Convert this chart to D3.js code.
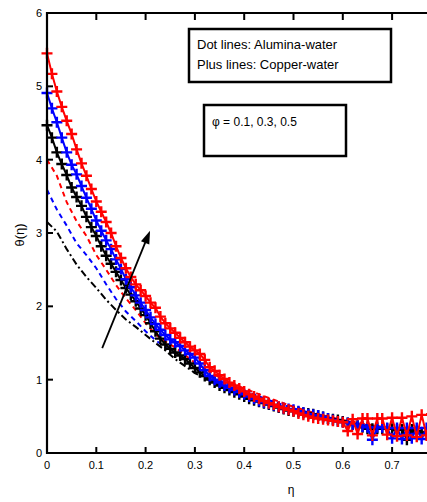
<!DOCTYPE html>
<html lang="en">
<head>
<meta charset="UTF-8">
<title>chart</title>
<script src="https://cdn.jsdelivr.net/npm/d3@7"></script>
<style>
  body { margin: 0; background: #fff; }
  text { font-family: "Liberation Sans", Arial, sans-serif; fill: #000; }
</style>
</head>
<body>
<script>
// x ticks / y ticks
var xTicks = [0, 0.1, 0.2, 0.3, 0.4, 0.5, 0.6, 0.7];
var yTicks = [0, 1, 2, 3, 4, 5, 6];

// copper-water (plus markers), eta step 0.01
var etaCu = [0.00,0.01,0.02,0.03,0.04,0.05,0.06,0.07,0.08,0.09,
             0.10,0.11,0.12,0.13,0.14,0.15,0.16,0.17,0.18,0.19,
             0.20,0.21,0.22,0.23,0.24,0.25,0.26,0.27,0.28,0.29,
             0.30,0.31,0.32,0.33,0.34,0.35,0.36,0.37,0.38,0.39,
             0.40,0.41,0.42,0.43,0.44,0.45,0.46,0.47,0.48,0.49,
             0.50,0.51,0.52,0.53,0.54,0.55,0.56,0.57,0.58,0.59,
             0.60,0.61,0.62,0.63,0.64,0.65,0.66,0.67,0.68,0.69,
             0.70,0.71,0.72,0.73,0.74,0.75,0.76,0.77,0.78];
var cuBlack = [4.47,4.30,4.10,3.94,3.79,3.62,3.49,3.37,3.22,3.08,
               2.96,2.82,2.69,2.58,2.47,2.36,2.25,2.16,2.07,1.97,
               1.88,1.77,1.66,1.56,1.48,1.42,1.37,1.33,1.28,1.22,
               1.16,1.10,1.05,1.00,0.96,0.92,0.89,0.86,0.83,0.80,
               0.77,0.74,0.72,0.70,0.68,0.66,0.64,0.62,0.60,0.58,
               0.57,0.56,0.55,0.54,0.53,0.51,0.49,0.47,0.46,0.45,
               0.43,0.41,0.39,0.37,0.35,0.33,0.33,0.33,0.33,0.33,
               0.33,0.32,0.32,0.18,0.32,0.30,0.28,0.27,0.27];
var cuBlue = [4.91,4.70,4.51,4.30,4.10,3.93,3.80,3.64,3.48,3.33,
              3.17,3.03,2.90,2.78,2.64,2.51,2.37,2.26,2.15,2.05,
              1.95,1.85,1.76,1.68,1.61,1.55,1.51,1.46,1.40,1.35,
              1.30,1.22,1.13,1.05,1.00,0.96,0.92,0.89,0.86,0.83,
              0.80,0.77,0.74,0.71,0.69,0.67,0.65,0.63,0.61,0.60,
              0.59,0.57,0.55,0.53,0.52,0.51,0.49,0.47,0.45,0.43,
              0.42,0.41,0.39,0.37,0.36,0.35,0.18,0.35,0.35,0.34,
              0.20,0.34,0.19,0.34,0.20,0.34,0.19,0.34,0.34];
var cuRed = [5.45,5.17,4.93,4.72,4.53,4.35,4.14,3.95,3.78,3.60,
             3.43,3.29,3.15,3.00,2.82,2.66,2.52,2.40,2.30,2.22,
             2.14,2.05,1.98,1.86,1.77,1.70,1.64,1.57,1.51,1.45,
             1.40,1.35,1.27,1.17,1.12,1.06,1.01,0.96,0.92,0.88,
             0.84,0.80,0.77,0.74,0.71,0.68,0.66,0.63,0.61,0.59,
             0.57,0.54,0.52,0.50,0.48,0.47,0.46,0.45,0.44,0.43,
             0.42,0.30,0.46,0.26,0.47,0.47,0.24,0.47,0.47,0.25,
             0.48,0.23,0.48,0.24,0.50,0.22,0.52,0.24,0.53];

// alumina-water (dashed lines)
var etaAl = [0,0.02,0.04,0.06,0.08,0.10,0.12,0.14,0.16,0.18,0.20,0.22,0.24,0.26,
             0.30,0.35,0.40,0.45,0.50,0.55,0.60,0.65,0.70,0.75,0.78];
var alBlack = [3.15,3.02,2.78,2.57,2.40,2.25,2.09,1.95,1.82,1.72,1.61,1.50,1.40,1.28,
               1.09,0.93,0.80,0.69,0.58,0.49,0.42,0.36,0.31,0.27,0.25];
var alBlue = [3.59,3.32,3.10,2.86,2.70,2.52,2.30,2.10,1.93,1.80,1.66,1.54,1.44,1.36,
              1.17,0.99,0.85,0.72,0.61,0.52,0.44,0.38,0.33,0.29,0.27];
var alRed = [4.00,3.78,3.42,3.16,2.96,2.70,2.50,2.29,2.11,1.95,1.77,1.62,1.52,1.44,
             1.23,1.03,0.88,0.75,0.63,0.53,0.45,0.39,0.34,0.30,0.28];

var legend1 = ["Dot lines: Alumina-water", "Plus lines: Copper-water"];
var legend2 = "\u03c6 = 0.1, 0.3, 0.5";

var width = 427, height = 502;
var svg = d3.select("body").append("svg")
    .attr("width", width).attr("height", height);

var x = d3.scaleLinear().domain([0, 0.8]).range([47, 441.4]);
var y = d3.scaleLinear().domain([0, 6]).range([453, 13]);

// alumina lines
var dash = {black: "7,3,2,3", blue: "5,4", red: "5,4"};
[["black", alBlack], ["blue", alBlue], ["red", alRed]].forEach(function(s){
    var line = d3.line().x(function(d,i){ return x(etaAl[i]); }).y(function(d){ return y(d); });
    svg.append("path")
        .attr("d", line(s[1]))
        .attr("fill", "none")
        .attr("stroke", s[0] == "blue" ? "#0000ff" : s[0] == "red" ? "#ff0000" : "#000")
        .attr("stroke-width", 2)
        .attr("stroke-dasharray", dash[s[0]]);
});

// copper lines with plus markers
[["#000", cuBlack], ["#0000ff", cuBlue], ["#ff0000", cuRed]].forEach(function(s){
    var line = d3.line().x(function(d,i){ return x(etaCu[i]); }).y(function(d){ return y(d); });
    svg.append("path")
        .attr("d", line(s[1]))
        .attr("fill", "none")
        .attr("stroke", s[0])
        .attr("stroke-width", 2);
    svg.append("g").selectAll("path.m").data(s[1]).enter().append("path")
        .attr("d", function(d,i){
            var cx = x(etaCu[i]), cy = y(d), r = 5.5;
            return "M" + (cx - r) + "," + cy + "H" + (cx + r) + "M" + cx + "," + (cy - r) + "V" + (cy + r);
        })
        .attr("stroke", s[0])
        .attr("stroke-width", 2.4)
        .attr("fill", "none");
});

// axes
var axisG = svg.append("g");
axisG.append("line").attr("x1", x(0)).attr("x2", width).attr("y1", y(0)).attr("y2", y(0))
    .attr("stroke", "#000").attr("stroke-width", 2.2);
axisG.append("line").attr("x1", x(0)).attr("x2", width).attr("y1", y(6)).attr("y2", y(6))
    .attr("stroke", "#000").attr("stroke-width", 2.2);
axisG.append("line").attr("x1", x(0)).attr("x2", x(0)).attr("y1", y(0) + 1).attr("y2", y(6) - 1)
    .attr("stroke", "#000").attr("stroke-width", 2.2);

xTicks.forEach(function(t){
    if (t > 0) {
        axisG.append("line").attr("x1", x(t)).attr("x2", x(t)).attr("y1", y(0)).attr("y2", y(0) - 6)
            .attr("stroke", "#000").attr("stroke-width", 2);
        axisG.append("line").attr("x1", x(t)).attr("x2", x(t)).attr("y1", y(6)).attr("y2", y(6) + 7)
            .attr("stroke", "#000").attr("stroke-width", 2);
    }
    axisG.append("text").attr("x", x(t)).attr("y", y(0) + 16)
        .attr("text-anchor", "middle").attr("font-size", 11).text(t);
});
yTicks.forEach(function(t){
    if (t > 0 && t < 6) {
        axisG.append("line").attr("x1", x(0)).attr("x2", x(0) + 6).attr("y1", y(t)).attr("y2", y(t))
            .attr("stroke", "#000").attr("stroke-width", 2);
    }
    axisG.append("text").attr("x", 42).attr("y", y(t) + 4)
        .attr("text-anchor", "end").attr("font-size", 11).text(t);
});

// axis titles
svg.append("text").attr("x", 291).attr("y", 494).attr("text-anchor", "middle")
    .attr("font-size", 12).text("\u03b7");
svg.append("text").attr("transform", "translate(24,235) rotate(-90)")
    .attr("text-anchor", "middle").attr("font-size", 13).text("\u03b8(\u03b7)");

// arrow
var a0 = [0.112, 1.43], a1 = [0.209, 3.03];
var ax0 = x(a0[0]), ay0 = y(a0[1]), ax1 = x(a1[0]), ay1 = y(a1[1]);
var ang = Math.atan2(ay1 - ay0, ax1 - ax0);
svg.append("line").attr("x1", ax0).attr("y1", ay0)
    .attr("x2", ax1 - 8 * Math.cos(ang)).attr("y2", ay1 - 8 * Math.sin(ang))
    .attr("stroke", "#000").attr("stroke-width", 1.8);
var hl = 13, hw = 4.5;
var bx = ax1 - hl * Math.cos(ang), by = ay1 - hl * Math.sin(ang);
svg.append("path")
    .attr("d", "M" + ax1 + "," + ay1 +
        "L" + (bx + hw * Math.sin(ang)) + "," + (by - hw * Math.cos(ang)) +
        "L" + (bx - hw * Math.sin(ang)) + "," + (by + hw * Math.cos(ang)) + "Z")
    .attr("fill", "#000");

// legend boxes
svg.append("rect").attr("x", 189).attr("y", 29).attr("width", 202).attr("height", 53)
    .attr("fill", "#fff").attr("stroke", "#000").attr("stroke-width", 2.5);
legend1.forEach(function(t, i){
    svg.append("text").attr("x", 197).attr("y", 49 + i * 20).attr("font-size", 13).text(t);
});
svg.append("rect").attr("x", 204).attr("y", 105).attr("width", 142).attr("height", 51)
    .attr("fill", "#fff").attr("stroke", "#000").attr("stroke-width", 2.5);
svg.append("text").attr("x", 212).attr("y", 126).attr("font-size", 12).text(legend2);
</script>
</body>
</html>
